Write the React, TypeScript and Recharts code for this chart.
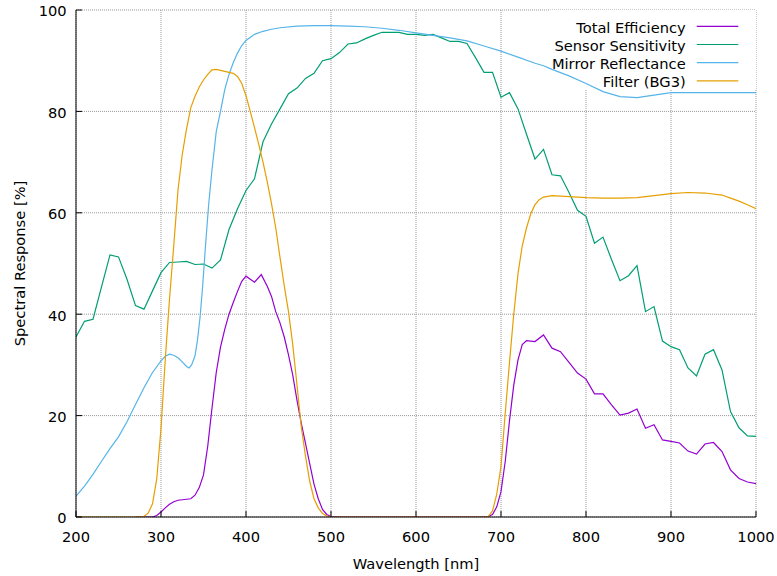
import React from 'react';
import { LineChart, Line, XAxis, YAxis, CartesianGrid, ReferenceArea, Legend } from 'recharts';

const xTicks = [200, 300, 400, 500, 600, 700, 800, 900, 1000];
const yTicks = [0, 20, 40, 60, 80, 100];

const seriesNames = ['Total Efficiency', 'Sensor Sensitivity', 'Mirror Reflectance', 'Filter (BG3)'];
const seriesColors = ['#9400d3', '#009e73', '#56b4e9', '#e69f00'];

const totalNm = [270, 280, 290, 295, 300, 305, 310, 315, 320, 330, 335, 340, 345, 350, 355, 360, 365, 370, 375, 380, 385, 390, 395, 400, 410, 418, 425, 430, 435, 440, 445, 450, 455, 460, 465, 470, 475, 480, 485, 490, 495, 500, 510, 600, 680, 685, 690, 695, 700, 705, 710, 715, 720, 725, 730, 740, 750, 760, 770, 780, 790, 800, 810, 820, 830, 840, 850, 860, 870, 880, 890, 900, 910, 920, 930, 940, 950, 960, 970, 980, 990, 1000];
const totalVal = [0, 0, 0, 0.3, 1.0, 1.8, 2.5, 3.0, 3.3, 3.5, 3.6, 4.3, 5.8, 8.3, 14.0, 21.5, 28.5, 33.5, 37.0, 40.0, 42.3, 44.5, 46.5, 47.5, 46.3, 47.8, 45.5, 43.5, 40.5, 38.3, 35.5, 32.0, 28.0, 23.0, 18.5, 14.5, 10.5, 6.5, 3.6, 1.5, 0.5, 0.1, 0, 0, 0, 0.1, 0.5, 2.0, 5.0, 11.0, 19.0, 26.0, 31.0, 34.0, 34.8, 34.6, 35.9, 33.3, 32.6, 30.5, 28.4, 27.2, 24.3, 24.3, 22.1, 20.1, 20.5, 21.3, 17.5, 18.2, 15.2, 14.9, 14.6, 13.0, 12.4, 14.4, 14.7, 12.9, 9.3, 7.6, 6.9, 6.6];

const sensorNm = [200, 210, 220, 230, 240, 250, 260, 270, 280, 290, 300, 310, 320, 330, 340, 350, 360, 370, 380, 390, 400, 410, 420, 430, 440, 450, 460, 470, 480, 490, 500, 510, 520, 530, 540, 550, 560, 570, 580, 590, 600, 610, 620, 630, 640, 650, 660, 670, 680, 690, 700, 710, 720, 730, 740, 750, 760, 770, 780, 790, 800, 810, 820, 830, 840, 850, 860, 870, 880, 890, 900, 910, 920, 930, 940, 950, 960, 970, 980, 990, 1000];
const sensorVal = [35.5, 38.6, 39.0, 45.4, 51.7, 51.3, 46.9, 41.7, 41.0, 44.6, 48.2, 50.2, 50.3, 50.4, 49.8, 49.9, 49.1, 50.7, 56.7, 60.8, 64.4, 66.7, 74.0, 77.5, 80.5, 83.5, 84.6, 86.5, 87.5, 90.0, 90.4, 91.6, 93.3, 93.5, 94.3, 95.0, 95.6, 95.6, 95.6, 95.2, 95.2, 95.0, 95.2, 94.5, 93.8, 93.8, 93.4, 90.6, 87.7, 87.7, 82.8, 83.7, 80.5, 75.5, 70.6, 72.5, 67.5, 67.3, 64.0, 60.5, 59.3, 54.0, 55.2, 50.8, 46.6, 47.6, 49.6, 40.5, 41.5, 34.7, 33.6, 33.0, 29.4, 27.8, 32.1, 33.0, 29.0, 20.8, 17.6, 16.0, 15.9];

const mirrorNm = [200, 210, 220, 230, 240, 250, 260, 270, 280, 290, 300, 305, 310, 315, 320, 325, 330, 333, 336, 340, 343, 346, 349, 352, 356, 360, 365, 370, 375, 380, 385, 390, 395, 400, 410, 420, 430, 440, 460, 480, 500, 520, 540, 560, 580, 600, 620, 640, 660, 680, 700, 720, 740, 750, 760, 780, 800, 820, 840, 860, 880, 900, 1000];
const mirrorVal = [4.1, 6.1, 8.4, 11.0, 13.5, 15.8, 18.8, 22.2, 25.5, 28.5, 30.8, 31.7, 32.1, 31.9, 31.4, 30.6, 29.7, 29.4, 30.0, 31.8, 35.0, 39.5, 45.5, 52.7, 61.5, 68.5, 76.0, 80.0, 84.3, 87.3, 89.6, 91.5, 93.0, 94.0, 95.2, 95.8, 96.2, 96.5, 96.8, 96.9, 96.9, 96.8, 96.7, 96.4, 96.0, 95.5, 95.0, 94.5, 93.9, 92.9, 91.9, 90.7, 89.5, 89.0, 88.3, 87.0, 85.5, 83.9, 82.9, 82.7, 83.2, 83.7, 83.7];

const filterNm = [200, 270, 280, 285, 290, 295, 300, 305, 310, 315, 320, 325, 330, 335, 340, 345, 350, 355, 360, 365, 370, 380, 385, 390, 395, 400, 405, 410, 415, 420, 425, 430, 435, 440, 445, 450, 455, 460, 465, 470, 475, 480, 485, 490, 495, 500, 600, 680, 685, 690, 695, 700, 705, 710, 715, 720, 725, 730, 735, 740, 745, 750, 760, 780, 800, 820, 840, 860, 880, 900, 920, 940, 960, 970, 980, 990, 1000];
const filterVal = [0, 0, 0.1, 0.8, 2.6, 7.5, 17.5, 31.0, 43.0, 53.5, 64.5, 71.5, 76.5, 80.7, 83.0, 84.8, 86.2, 87.3, 88.2, 88.3, 88.1, 87.7, 87.5, 86.9, 85.5, 83.1, 80.0, 76.8, 73.5, 70.0, 66.1, 61.8, 57.0, 51.2, 45.6, 40.5, 34.0, 26.0, 17.8, 12.0, 7.0, 3.6, 1.8, 0.7, 0.2, 0, 0, 0, 0.1, 1.2, 4.5, 10.0, 20.5, 30.5, 40.0, 48.0, 53.5, 57.0, 59.8, 61.6, 62.6, 63.1, 63.4, 63.2, 63.0, 62.9, 62.9, 63.0, 63.4, 63.8, 64.0, 63.9, 63.5, 62.9, 62.3, 61.6, 60.8];

const toRows = (nm: number[], val: number[]) => nm.map((x, i) => ({ nm: x, v: val[i] }));

const seriesData = [
  toRows(totalNm, totalVal),
  toRows(sensorNm, sensorVal),
  toRows(mirrorNm, mirrorVal),
  toRows(filterNm, filterVal),
];

const FONT = 'DejaVu Sans';
const FS = 14.67;

const LegendBox = () => (
  <svg width={220} height={85} style={{ display: 'block' }}>
    {seriesNames.map((name, i) => (
      <g key={name}>
        <text x={145.7} y={22.7 + i * 18.2} textAnchor="end" fontFamily={FONT} fontSize={FS} fill="#000">
          {name}
        </text>
        <line x1={156.7} x2={198.3} y1={16.3 + i * 18.2} y2={16.3 + i * 18.2} stroke={seriesColors[i]} strokeWidth={1.2} />
      </g>
    ))}
  </svg>
);

export default function App() {
  return (
    <div style={{ position: 'absolute', left: 0, top: 0, width: 777, height: 576, background: '#fff' }}>
      <LineChart width={777} height={576} margin={{ top: 10, right: 21, bottom: 0, left: 0 }}>
        <CartesianGrid stroke="#999" strokeDasharray="1 1" />
        <ReferenceArea x1={757} x2={1000} y1={84.3} y2={100} fill="#fff" fillOpacity={1} stroke="none" ifOverflow="hidden" />
        <XAxis
          dataKey="nm"
          type="number"
          domain={[200, 1000]}
          ticks={xTicks}
          allowDataOverflow
          height={59}
          tickSize={-6}
          tickMargin={21}
          axisLine={{ stroke: '#000' }}
          tickLine={{ stroke: '#000' }}
          tick={{ fill: '#000', fontFamily: FONT, fontSize: FS }}
          label={{
            content: (props: any) => {
              const vb = props.viewBox;
              return (
                <text x={vb.x + vb.width / 2} y={vb.y + 52} textAnchor="middle" fontFamily={FONT} fontSize={FS} fill="#000">
                  Wavelength [nm]
                </text>
              );
            },
          }}
        />
        <XAxis
          xAxisId="top"
          orientation="top"
          dataKey="nm"
          type="number"
          domain={[200, 1000]}
          ticks={xTicks}
          allowDataOverflow
          height={0}
          tickSize={-6}
          axisLine={{ stroke: '#000' }}
          tickLine={{ stroke: '#000' }}
          tick={false}
        />
        <YAxis
          type="number"
          domain={[0, 100]}
          ticks={yTicks}
          allowDataOverflow
          width={76}
          tickSize={-6}
          tickMargin={15.3}
          axisLine={{ stroke: '#000' }}
          tickLine={{ stroke: '#000' }}
          tick={{ fill: '#000', fontFamily: FONT, fontSize: FS, dy: 1.2 }}
          label={{
            content: (props: any) => {
              const vb = props.viewBox;
              const cx = vb.x + 19;
              const cy = vb.y + vb.height / 2;
              return (
                <text x={cx} y={cy} transform={`rotate(-90 ${cx} ${cy})`} textAnchor="middle" dominantBaseline="central" fontFamily={FONT} fontSize={FS} fill="#000">
                  Spectral Response [%]
                </text>
              );
            },
          }}
        />
        <YAxis
          yAxisId="right"
          orientation="right"
          type="number"
          domain={[0, 100]}
          ticks={yTicks}
          allowDataOverflow
          width={0}
          tickSize={-6}
          axisLine={{ stroke: '#000' }}
          tickLine={{ stroke: '#000' }}
          tick={false}
        />
        {seriesData.map((rows, i) => (
          <Line
            key={seriesNames[i]}
            data={rows}
            dataKey="v"
            name={seriesNames[i]}
            type="linear"
            stroke={seriesColors[i]}
            strokeWidth={1.2}
            dot={false}
            activeDot={false}
            isAnimationActive={false}
          />
        ))}
        <Legend
          layout="horizontal"
          verticalAlign="middle"
          align="center"
          width={220}
          height={85}
          wrapperStyle={{ left: 540, top: 10, width: 220, height: 85 }}
          content={() => <LegendBox />}
        />
      </LineChart>
    </div>
  );
}
